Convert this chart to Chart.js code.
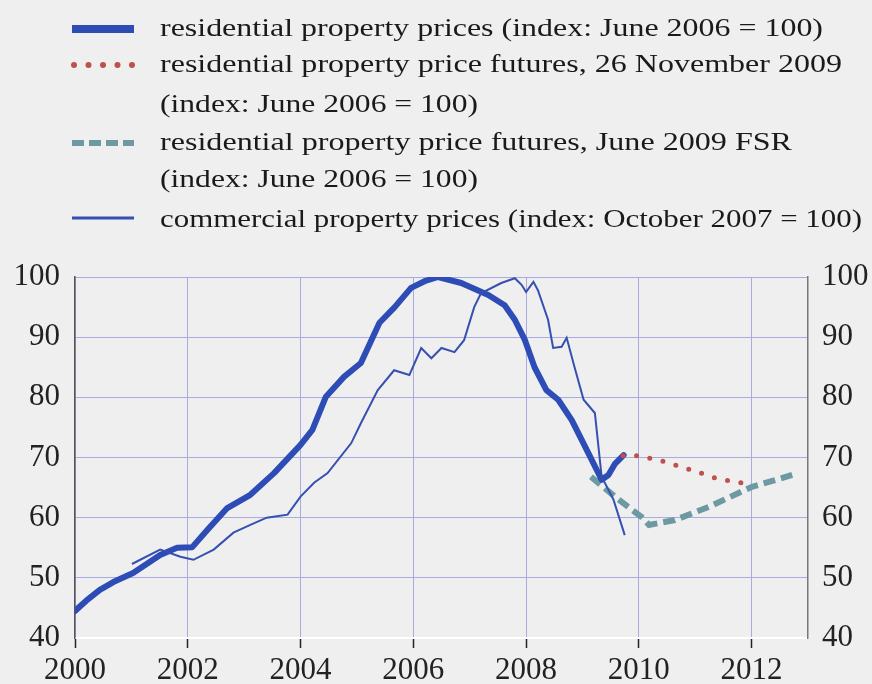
<!DOCTYPE html>
<html>
<head>
<meta charset="utf-8">
<script src="https://cdn.jsdelivr.net/npm/chart.js@4/dist/chart.umd.min.js"></script>
<style>
    body { margin: 0; background: #efefef; }
    #wrap { width: 872px; height: 684px; position: relative; }
</style>
</head>
<body>
<div id="wrap"><canvas id="chart"></canvas></div>
<script>
// Residential property prices (index: June 2006 = 100)
const resYears = [2000.0, 2000.2, 2000.44, 2000.68, 2001.03, 2001.51, 2001.81, 2002.08, 2002.35, 2002.7,
    2003.11, 2003.53, 2004.0, 2004.21, 2004.45, 2004.77, 2005.07, 2005.4, 2005.67, 2005.96,
    2006.2, 2006.44, 2006.85, 2007.33, 2007.62, 2007.8, 2007.98, 2008.15, 2008.36, 2008.57,
    2008.81, 2009.1, 2009.34, 2009.46, 2009.58, 2009.73];
const resValues = [44.5, 46.2, 48.0, 49.3, 50.8, 53.8, 55.0, 55.1, 58.0, 61.6,
    63.8, 67.4, 72.1, 74.6, 80.1, 83.4, 85.7, 92.4, 95.0, 98.2,
    99.3, 100, 99.0, 97.0, 95.3, 92.9, 89.5, 85.0, 81.2, 79.6,
    76.2, 70.8, 66.3, 67.1, 69.0, 70.4];

// Futures, 26 November 2009
const novYears = [2009.72, 2010.0, 2010.46, 2010.94, 2011.42, 2011.96];
const novValues = [70.3, 70.3, 69.3, 67.9, 66.4, 65.6];

// Futures, June 2009 FSR
const fsrYears = [2009.15, 2009.64, 2010.05, 2010.18, 2010.64, 2011.24, 2012.0, 2012.72];
const fsrValues = [66.8, 63.0, 60.1, 58.8, 59.6, 61.8, 65.1, 67.1];

// Commercial property prices (index: October 2007 = 100)
const comYears = [2001.01, 2001.51, 2001.87, 2002.1, 2002.46, 2002.81, 2003.11, 2003.4, 2003.77, 2004.0,
    2004.24, 2004.48, 2004.9, 2005.07, 2005.37, 2005.66, 2005.93, 2006.14, 2006.32, 2006.5,
    2006.73, 2006.9, 2007.08, 2007.2, 2007.56, 2007.8, 2007.92, 2008.0, 2008.13, 2008.21,
    2008.39, 2008.48, 2008.63, 2008.72, 2008.86, 2009.02, 2009.22, 2009.34, 2009.55, 2009.75];
const comValues = [52.3, 54.7, 53.5, 53.0, 54.7, 57.5, 58.8, 60.0, 60.5, 63.5,
    65.8, 67.4, 72.4, 75.7, 81.2, 84.5, 83.7, 88.2, 86.5, 88.2,
    87.5, 89.5, 95.0, 97.3, 99.0, 99.8, 98.7, 97.5, 99.2, 97.8,
    92.9, 88.2, 88.4, 89.9, 85.0, 79.6, 77.4, 66.8, 63.0, 57.1];

const yTicks = [40, 50, 60, 70, 80, 90, 100];
const xTicks = [2000, 2002, 2004, 2006, 2008, 2010, 2012];

const legendRows = [
    'residential property prices (index: June 2006 = 100)',
    'residential property price futures, 26 November 2009',
    '(index: June 2006 = 100)',
    'residential property price futures, June 2009 FSR',
    '(index: June 2006 = 100)',
    'commercial property prices (index: October 2007 = 100)'
];
// right end of each legend row in the original (text is a bit stretched there)
const legendRowEnds = [823, 842, 478, 792, 478, 862];

const zip = (xs, ys) => xs.map((x, i) => ({ x: x, y: ys[i] }));

const BLUE = '#2d4cb5';
const THIN = '#3550b0';
const RED = '#c0504d';
const TEAL = '#6d99a2';
const GRID = '#aaaae2';
const SERIF = '"Liberation Serif", "Times New Roman", serif';

// Legend drawn above the plot, with the sample styles of each series
const legendPlugin = {
    id: 'topLegend',
    afterDraw(chart) {
        const ctx = chart.ctx;
        const rowsY = [29, 65, 105, 143, 180, 220];
        ctx.save();
        // samples
        ctx.lineCap = 'butt';
        ctx.strokeStyle = BLUE; ctx.lineWidth = 8;
        ctx.beginPath(); ctx.moveTo(72, 29); ctx.lineTo(134, 29); ctx.stroke();

        ctx.fillStyle = RED;
        for (let i = 0; i < 5; i++) {
            ctx.beginPath(); ctx.arc(74 + i * 14.5, 65, 3, 0, Math.PI * 2); ctx.fill();
        }

        ctx.strokeStyle = TEAL; ctx.lineWidth = 6;
        ctx.setLineDash([12, 5]);
        ctx.beginPath(); ctx.moveTo(72, 143); ctx.lineTo(134, 143); ctx.stroke();
        ctx.setLineDash([]);

        ctx.strokeStyle = THIN; ctx.lineWidth = 3;
        ctx.beginPath(); ctx.moveTo(72, 218); ctx.lineTo(134, 218); ctx.stroke();

        // texts
        ctx.font = '26px ' + SERIF;
        ctx.fillStyle = '#1a1a1a';
        ctx.textBaseline = 'middle';
        legendRows.forEach((t, i) => {
            const sx = (legendRowEnds[i] - 160) / ctx.measureText(t).width;
            ctx.save();
            ctx.translate(160, rowsY[i]);
            ctx.scale(sx, 1);
            ctx.fillText(t, 0, 0);
            ctx.restore();
        });
        ctx.restore();
    }
};

const ctx = document.getElementById('chart').getContext('2d');
new Chart(ctx, {
    type: 'line',
    data: {
        datasets: [
            {
                label: legendRows[0],
                data: zip(resYears, resValues),
                borderColor: BLUE, borderWidth: 6,
                borderJoinStyle: 'round', borderCapStyle: 'round',
                order: 2
            },
            {
                label: legendRows[1],
                data: zip(novYears, novValues),
                borderColor: RED, borderWidth: 5,
                borderCapStyle: 'round', borderDash: [0, 13.5],
                order: 1
            },
            {
                label: legendRows[3],
                data: zip(fsrYears, fsrValues),
                borderColor: TEAL, borderWidth: 6,
                borderDash: [12, 6],
                order: 3
            },
            {
                label: legendRows[5],
                data: zip(comYears, comValues),
                borderColor: THIN, borderWidth: 2,
                order: 0
            }
        ]
    },
    options: {
        responsive: true,
        maintainAspectRatio: false,
        animation: false,
        layout: { padding: { top: 277, bottom: 0, left: 0, right: 0 } },
        elements: { point: { radius: 0 }, line: { tension: 0 } },
        plugins: { legend: { display: false }, tooltip: { enabled: false } },
        scales: {
            x: {
                type: 'linear',
                min: 2000, max: 2013,
                afterBuildTicks: s => { s.ticks = xTicks.map(v => ({ value: v })); },
                afterFit: s => { s.height = 46; },
                grid: { color: GRID, lineWidth: 1, tickColor: '#222', tickLength: 10, tickWidth: 1.5 },
                border: { color: '#ffffff', width: 2 },
                ticks: { padding: 4, color: '#222', font: { family: SERIF, size: 31 }, maxRotation: 0,
                    callback: v => String(v) }
            },
            y: {
                min: 40, max: 100,
                afterBuildTicks: s => { s.ticks = yTicks.map(v => ({ value: v })); },
                afterFit: s => { s.width = 75; },
                grid: { color: GRID, lineWidth: 1, drawTicks: false },
                border: { color: '#555', width: 1.5 },
                ticks: { padding: 15, color: '#222', font: { family: SERIF, size: 31 } }
            },
            y2: {
                position: 'right',
                min: 40, max: 100,
                afterBuildTicks: s => { s.ticks = yTicks.map(v => ({ value: v })); },
                afterFit: s => { s.width = 64; },
                grid: { drawOnChartArea: false, drawTicks: false },
                border: { color: '#777', width: 1.5 },
                ticks: { padding: 14, color: '#222', font: { family: SERIF, size: 31 } }
            }
        }
    },
    plugins: [legendPlugin]
});
</script>
</body>
</html>
